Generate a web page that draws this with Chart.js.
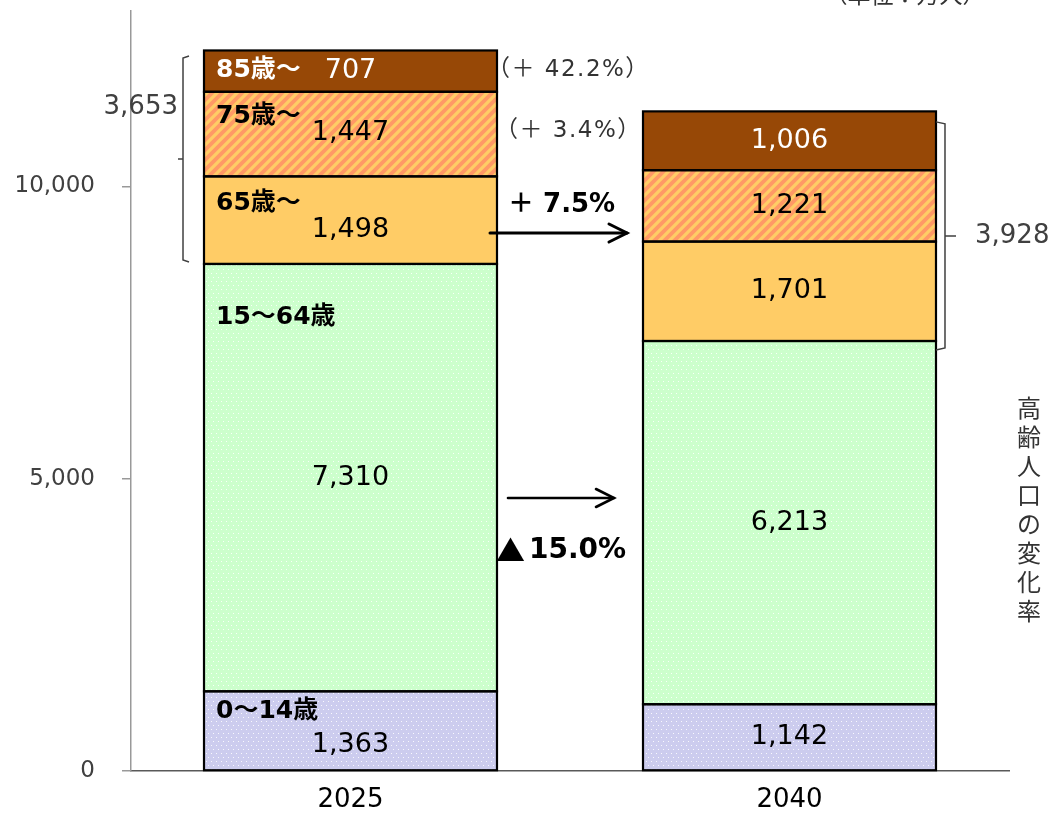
<!DOCTYPE html>
<html>
<head>
<meta charset="utf-8">
<script src="https://cdn.jsdelivr.net/npm/chart.js@4/dist/chart.umd.min.js"></script>
<style>
html,body{margin:0;padding:0;background:#fff;}
#wrap{width:1053px;height:815px;position:relative;}
</style>
</head>
<body>
<div id="wrap"><canvas id="c" width="1053" height="815"></canvas></div>
<script>
// ---- data ----
const categories = ['2025', '2040'];
const age0_14  = [1363, 1142];
const age15_64 = [7310, 6213];
const age65_74 = [1498, 1701];
const age75_84 = [1447, 1221];
const age85    = [707, 1006];
const seriesNames = ['0～14歳', '15～64歳', '65歳～', '75歳～', '85歳～'];
const yTicks = [0, 5000, 10000];
const elderlyTotals = ['3,653', '3,928'];
const rate85 = '（＋ 42.2%）';
const rate75 = '（＋ 3.4%）';
const rateElderly = '＋ 7.5%';
const rateWorking = ['▲', '15.0%'];
const unitLabel = '（単位：万人）';
const sideLabel = '高齢人口の変化率';

const FONT = '"DejaVu Sans", "Noto Sans CJK JP", sans-serif';
const CJK = '"Noto Sans CJK JP", sans-serif';

function dotPattern(base) {
  const c = document.createElement('canvas');
  c.width = 10; c.height = 8;
  const g = c.getContext('2d');
  g.fillStyle = base; g.fillRect(0, 0, 10, 8);
  g.fillStyle = 'rgba(255,255,255,0.85)';
  g.fillRect(1, 1, 1, 1); g.fillRect(6, 1, 1, 1);
  g.fillRect(3, 5, 1, 1); g.fillRect(8, 5, 1, 1);
  return g.createPattern(c, 'repeat');
}
function stripePattern(base, stripe) {
  const s = 10;
  const c = document.createElement('canvas');
  c.width = s; c.height = s;
  const g = c.getContext('2d');
  g.fillStyle = base; g.fillRect(0, 0, s, s);
  g.strokeStyle = stripe; g.lineWidth = 3.2;
  g.beginPath();
  g.moveTo(-2, s + 2); g.lineTo(s + 2, -2);
  g.moveTo(-3, 3); g.lineTo(3, -3);
  g.moveTo(s - 3, s + 3); g.lineTo(s + 3, s - 3);
  g.stroke();
  return g.createPattern(c, 'repeat');
}

const fills = [
  dotPattern('#CCCCEE'),
  dotPattern('#CCFFCC'),
  '#FFCC66',
  stripePattern('#FF9966', '#FFCC66'),
  '#974806'
];
const seriesData = [age0_14, age15_64, age65_74, age75_84, age85];

// label tweaks (pixel offsets), kept apart from the data
const valueOffsetY = [[14, 0], [0, 0], [10, 0], [-1, 0], [0, 0]];
const nameOffsetFromTop = [20, 54, 27, 25, null];

const annot = {
  id: 'annot',
  afterDatasetsDraw(chart) {
    const ctx = chart.ctx;
    const metas = seriesData.map((_, i) => chart.getDatasetMeta(i));
    ctx.save();
    // segment outlines (centered on each edge of the library's bar elements)
    ctx.strokeStyle = '#000';
    ctx.lineWidth = 2.2;
    metas.forEach(m => m.data.forEach(bar => {
      const l = bar.x - bar.width / 2;
      ctx.strokeRect(l, bar.y, bar.width, bar.base - bar.y);
    }));
    // values
    metas.forEach((m, i) => {
      m.data.forEach((bar, j) => {
        const v = seriesData[i][j];
        ctx.font = '27px ' + FONT;
        ctx.fillStyle = i === 4 ? '#ffffff' : '#000000';
        ctx.textAlign = 'center';
        ctx.textBaseline = 'middle';
        ctx.fillText(v.toLocaleString('en-US'), bar.x, (bar.y + bar.base) / 2 + valueOffsetY[i][j]);
      });
    });
    // series names inside 2025 bar
    metas.forEach((m, i) => {
      const bar = m.data[0];
      const left = bar.x - bar.width / 2 + 12;
      const y = nameOffsetFromTop[i] === null ? (bar.y + bar.base) / 2 - 1 : bar.y + nameOffsetFromTop[i];
      ctx.font = 'bold 25px ' + FONT;
      ctx.fillStyle = i === 4 ? '#ffffff' : '#000000';
      ctx.textAlign = 'left';
      ctx.textBaseline = 'middle';
      ctx.fillText(seriesNames[i], left, y);
    });
    const b0top = metas[4].data[0], b1top = metas[4].data[1];
    const b0el = metas[2].data[0], b1el = metas[2].data[1];
    const b075 = metas[3].data[0];
    const right0 = b0top.x + b0top.width / 2;
    const left1 = b1top.x - b1top.width / 2;
    const right1 = b1top.x + b1top.width / 2;
    const left0 = b0top.x - b0top.width / 2;
    // rates
    ctx.font = '23px ' + FONT;
    ctx.letterSpacing = '1.5px';
    ctx.fillStyle = '#333333';
    ctx.textAlign = 'left';
    ctx.fillText(rate85, right0 - 10, (b0top.y + b0top.base) / 2 - 1);
    ctx.fillText(rate75, right0 - 2, (b075.y + b075.base) / 2 - 3);
    ctx.letterSpacing = '0px';
    ctx.font = 'bold 26px ' + FONT;
    ctx.fillStyle = '#000';
    ctx.fillText(rateElderly, right0 + 11, 205);
    ctx.font = 'bold 29px ' + CJK;
    ctx.fillText(rateWorking[0], right0 - 1, 551);
    ctx.font = 'bold 28px ' + FONT;
    ctx.fillText(rateWorking[1], right0 + 32, 551);
    // arrows
    function arrow(x1, x2, y, lw, hw, hh) {
      ctx.strokeStyle = '#000'; ctx.lineWidth = lw; ctx.lineCap = 'round'; ctx.lineJoin = 'miter';
      ctx.beginPath(); ctx.moveTo(x1, y); ctx.lineTo(x2, y); ctx.stroke();
      ctx.beginPath(); ctx.moveTo(x2 - hw, y - hh); ctx.lineTo(x2, y); ctx.lineTo(x2 - hw, y + hh); ctx.stroke();
    }
    arrow(right0 - 7, left1 - 16, 233, 3, 18, 9);
    arrow(right0 + 11, left1 - 29, 498, 2.6, 18, 9);
    // brackets
    ctx.strokeStyle = '#404040'; ctx.lineWidth = 1.5; ctx.lineCap = 'butt';
    const lx = left0 - 21, lt = b0top.y + 5.5, lb = b0el.base - 2, lm = (lt + lb) / 2;
    ctx.beginPath();
    ctx.moveTo(lx + 6, lt); ctx.lineTo(lx, lt + 2); ctx.lineTo(lx, lb - 2); ctx.lineTo(lx + 6, lb);
    ctx.moveTo(lx, lm); ctx.lineTo(lx - 5, lm);
    ctx.stroke();
    const rx = right1 + 9, rt = b1top.y + 10.5, rb = b1el.base + 9, rm = (rt + rb) / 2;
    ctx.beginPath();
    ctx.moveTo(rx - 9, rt); ctx.lineTo(rx, rt + 2); ctx.lineTo(rx, rb - 2); ctx.lineTo(rx - 9, rb);
    ctx.moveTo(rx, rm); ctx.lineTo(rx + 11, rm);
    ctx.stroke();
    ctx.font = '26px ' + FONT;
    ctx.fillStyle = '#404040';
    ctx.textBaseline = 'middle';
    ctx.textAlign = 'right';
    ctx.fillText(elderlyTotals[0], 178, 107);
    ctx.textAlign = 'left';
    ctx.fillText(elderlyTotals[1], 975, rm);
    // vertical side label
    ctx.font = '24px ' + CJK;
    ctx.fillStyle = '#333333';
    ctx.textAlign = 'center';
    [...sideLabel].forEach((ch, k) => ctx.fillText(ch, 1029, 408 + k * 29));
    // unit label (cut at top)
    ctx.font = '23px ' + CJK;
    ctx.fillText(unitLabel, 905, -6);
    ctx.restore();
  }
};

new Chart(document.getElementById('c'), {
  type: 'bar',
  data: {
    labels: categories,
    datasets: seriesData.map((d, i) => ({
      label: seriesNames[i],
      data: d,
      backgroundColor: fills[i],
      borderWidth: 0,
      barPercentage: 1,
      categoryPercentage: 0.6674
    }))
  },
  options: {
    responsive: false,
    devicePixelRatio: 1,
    animation: false,
    layout: { padding: { top: 11, right: 44, left: 0, bottom: 0 } },
    plugins: { legend: { display: false }, tooltip: { enabled: false } },
    scales: {
      x: {
        stacked: true,
        grid: { display: false, drawTicks: false },
        border: { color: '#595959', width: 1.5 },
        ticks: { font: { family: FONT, size: 26 }, color: '#000', padding: 14 },
        afterFit(s) { s.height = 44; s.paddingLeft = 0; s.paddingRight = 0; }
      },
      y: {
        stacked: true,
        min: 0, max: 13000,
        afterBuildTicks(s) { s.ticks = yTicks.map(v => ({ value: v })); },
        grid: { drawOnChartArea: false, drawTicks: true, tickLength: 9, color: '#999999', lineWidth: 1.5 },
        border: { color: '#999999', width: 1.5 },
        ticks: {
          padding: 27, color: '#404040',
          font: { family: FONT, size: 23 },
          callback: v => v.toLocaleString('en-US')
        },
        afterFit(s) { s.width = 131; s.paddingTop = 0; s.paddingBottom = 0; }
      }
    }
  },
  plugins: [annot]
});
</script>
</body>
</html>
